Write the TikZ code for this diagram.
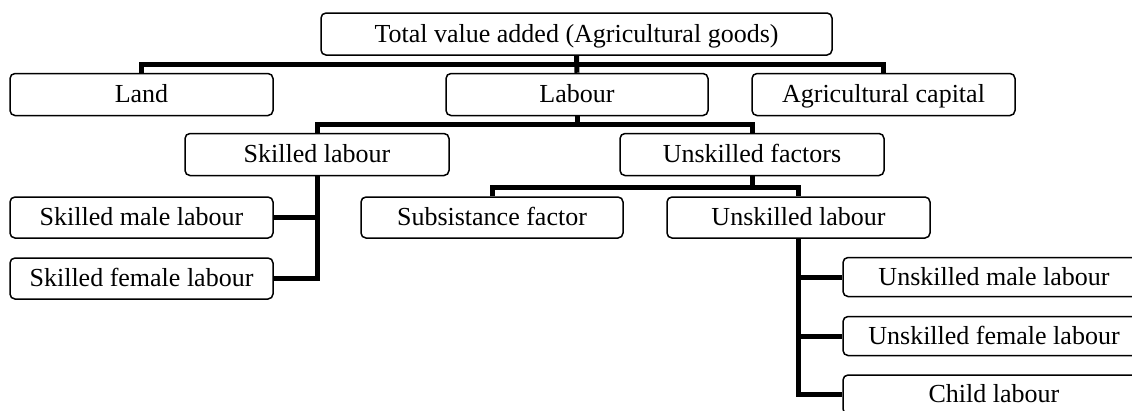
\documentclass[tikz,border=0pt]{standalone}
\usepackage{fontspec}
\setmainfont{Liberation Serif}
\begin{document}
\begin{tikzpicture}[x=1pt,y=-1pt,
  box/.style={draw=black,line width=1.5pt,rounded corners=5pt,inner sep=0pt,
    text height=18pt,text depth=2pt,
    minimum height=42pt,font=\fontsize{26}{30}\selectfont,anchor=center},
  conn/.style={line width=5pt,line join=miter,draw=black}]
\clip (0,0) rectangle (1132,410);
\useasboundingbox (0,0) rectangle (1132,410);
% nodes
\node[box,minimum width=511pt] (top) at (576.5,34) {Total value added (Agricultural goods)};
\node[box,minimum width=263pt] (land) at (141.5,94.5) {Land};
\node[box,minimum width=262pt] (labour) at (577,94.5) {Labour};
\node[box,minimum width=263pt] (agcap) at (883.5,94.5) {Agricultural capital};
\node[box,minimum width=264pt] (skilled) at (317,154.5) {Skilled labour};
\node[box,minimum width=264pt] (unskf) at (752,154.5) {Unskilled factors};
\node[box,minimum width=263pt,minimum height=41pt] (smale) at (141.5,217.5) {Skilled male labour};
\node[box,minimum width=263pt,minimum height=41pt] (sfemale) at (141.5,278.5) {Skilled female labour};
\node[box,minimum width=262pt,minimum height=41pt] (subs) at (492,217.5) {Subsistance factor};
\node[box,minimum width=263pt,minimum height=41pt] (unsl) at (798.5,217.5) {Unskilled labour};
\node[box,minimum width=302pt,minimum height=39pt] (umale) at (994,277) {Unskilled male labour};
\node[box,minimum width=302pt,minimum height=39pt] (ufemale) at (994,336) {Unskilled female labour};
\node[box,minimum width=302pt,minimum height=39pt] (child) at (994,394.5) {Child labour};
% junction coordinates
\coordinate (b1) at (576.5,64);
\coordinate (b2) at (577,124);
\coordinate (b3) at (752,187);
% connectors
\draw[conn] (land.north) |- (b1) -| (agcap.north);
\draw[conn] (top.south) -- (labour.north);
\draw[conn] (skilled.north) |- (b2) -| (unskf.north);
\draw[conn] (labour.south) -- (b2);
\draw[conn] (subs.north) |- (b3) -| (unsl.north);
\draw[conn] (unskf.south) -- (b3);
\draw[conn] (skilled.south) |- (smale.east);
\draw[conn] (skilled.south) |- (sfemale.east);
\draw[conn] (unsl.south) |- (umale.west);
\draw[conn] (unsl.south) |- (ufemale.west);
\draw[conn] (unsl.south) |- (child.west);
\end{tikzpicture}
\end{document}
